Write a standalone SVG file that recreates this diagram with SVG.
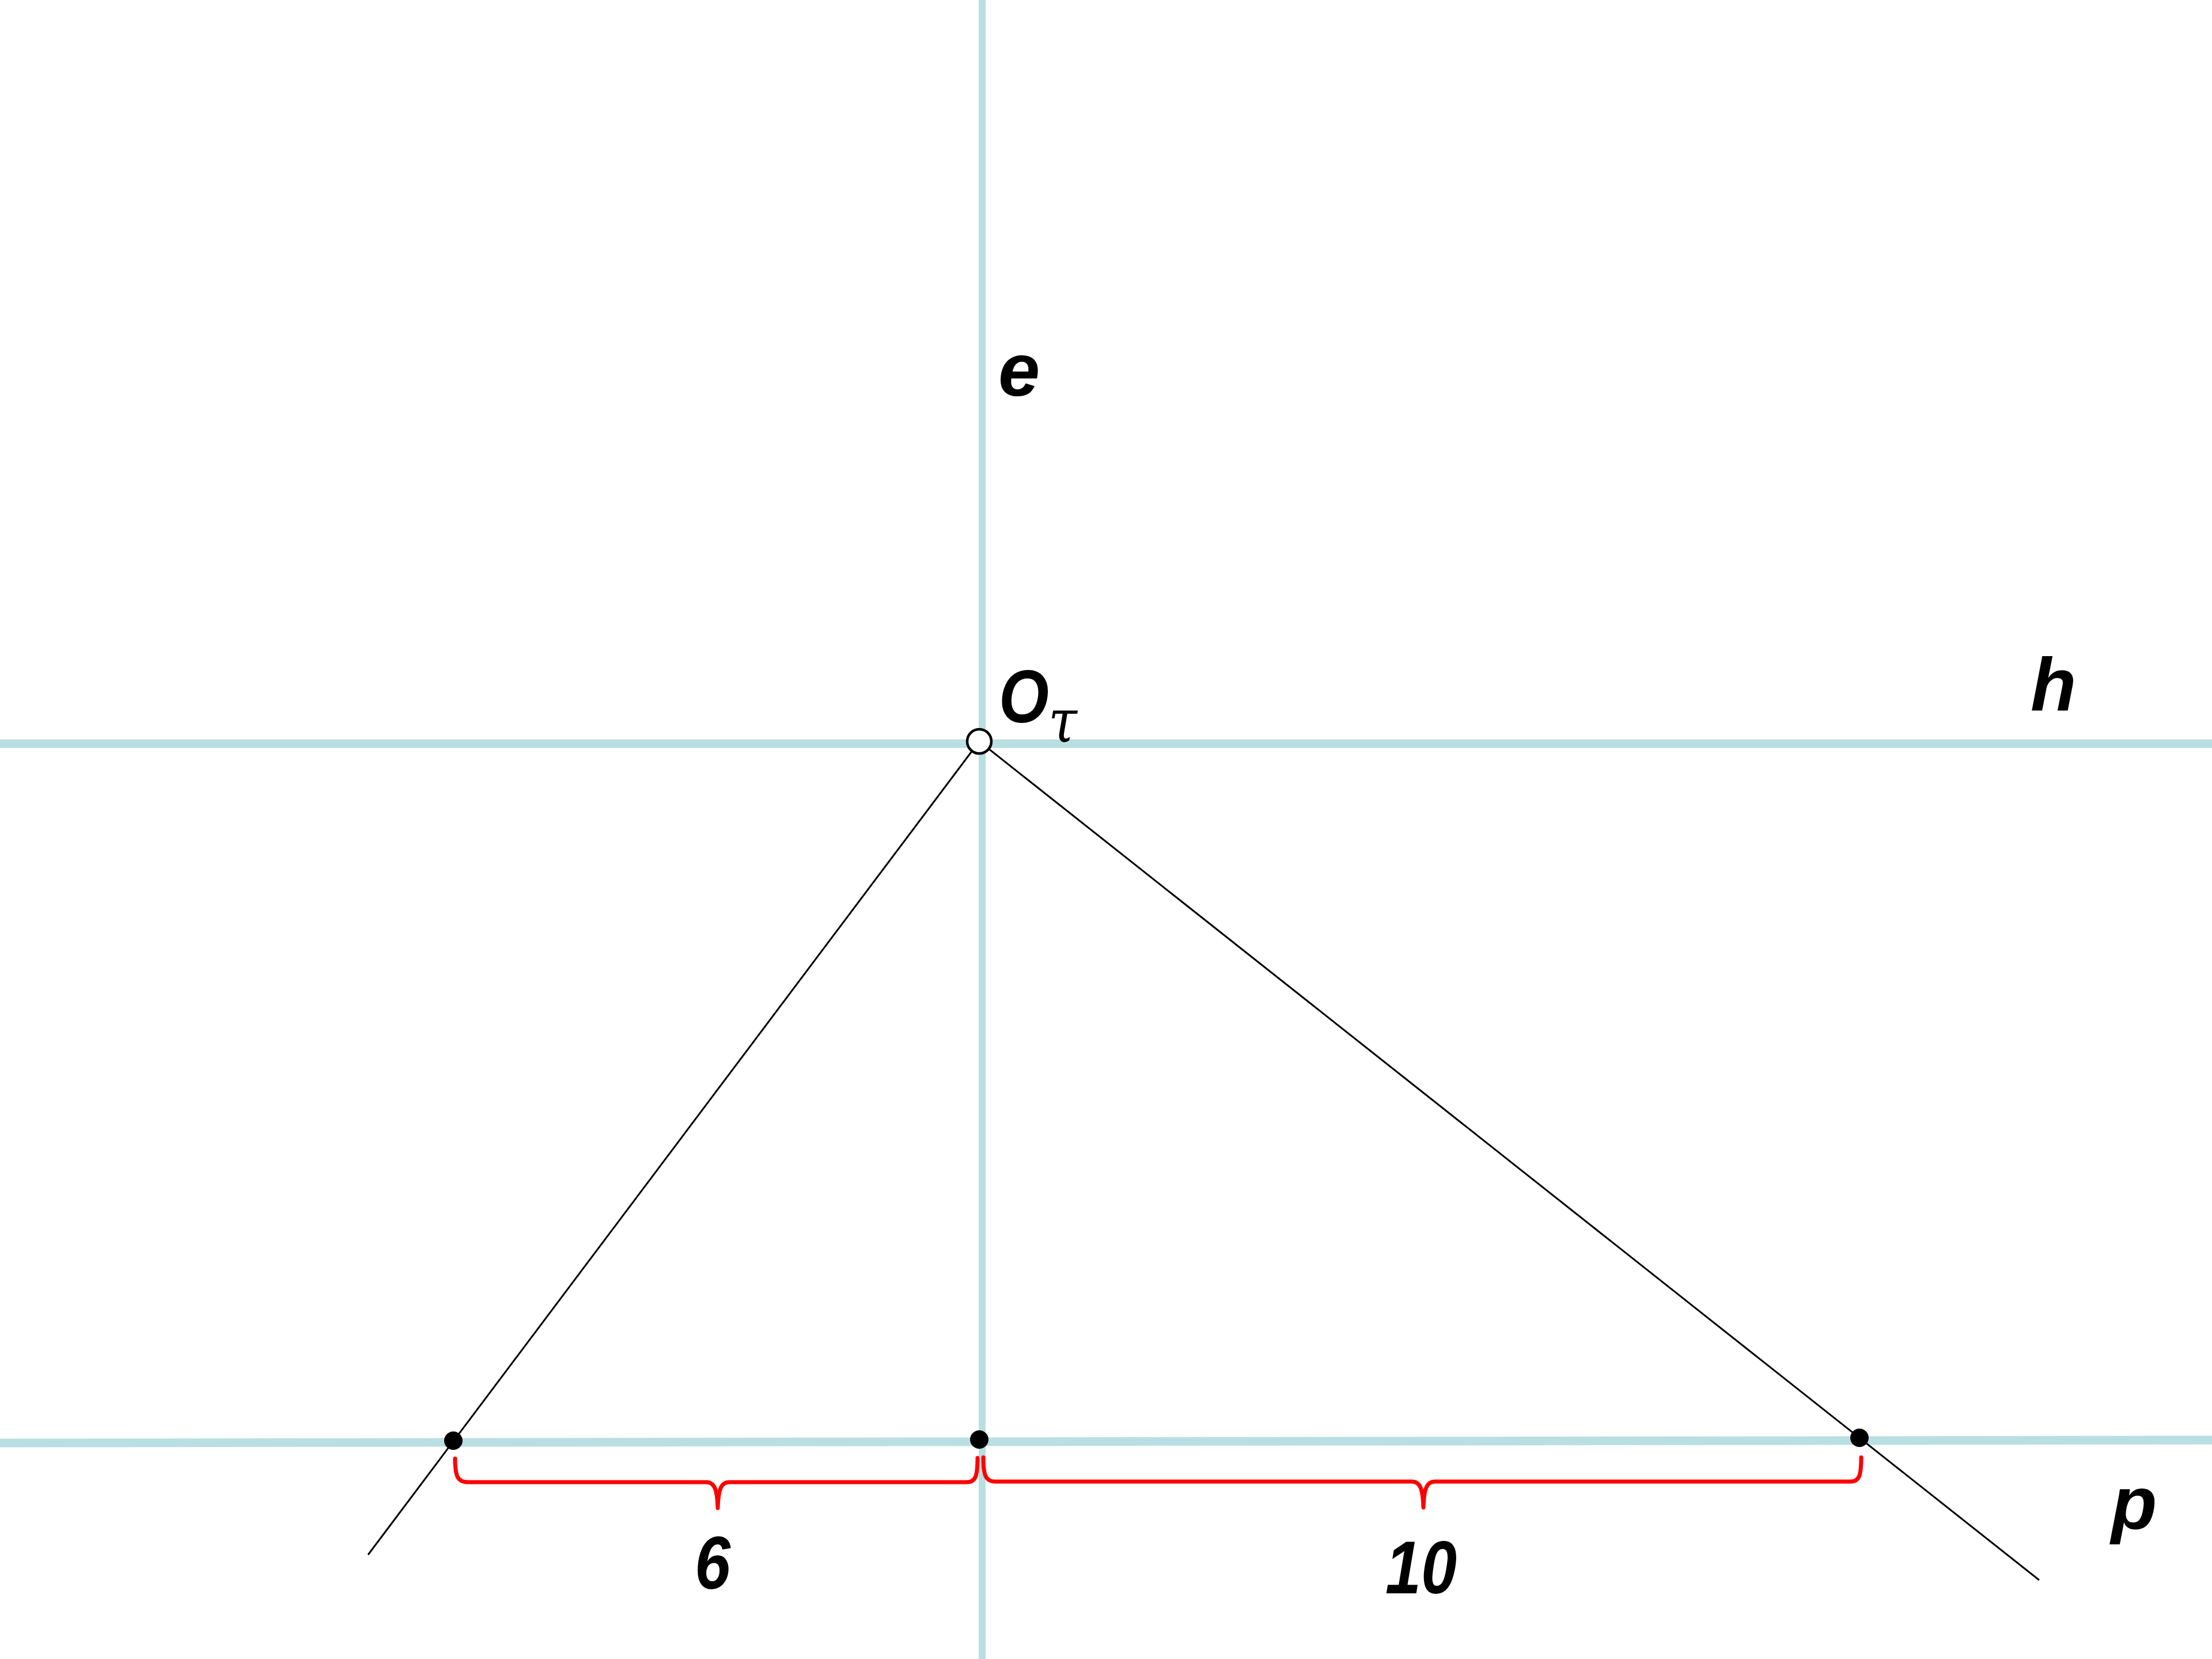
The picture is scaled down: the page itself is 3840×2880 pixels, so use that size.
<svg xmlns="http://www.w3.org/2000/svg" width="3840" height="2880" viewBox="0 0 3840 2880">
<style>
.axis{stroke:#b9dfe2;fill:none}
.ray{stroke:#000;stroke-width:3;fill:none}
.brace{stroke:#ff0000;stroke-width:7;fill:none;stroke-linecap:round;stroke-linejoin:round}
.lbl{font-family:"Liberation Sans",Arial,sans-serif;font-weight:bold;font-style:italic;font-size:130px;fill:#000}
.sub{font-family:"DejaVu Serif","Liberation Serif",serif;font-weight:normal;font-style:italic;font-size:105px}
.dot{fill:#000}
</style>
<rect width="3840" height="2880" fill="#fff"/>
<g id="connectors">
<line id="e-line" class="axis" x1="1705" y1="0" x2="1705" y2="2880" stroke-width="12"/>
<line id="h-line" class="axis" x1="0" y1="1291" x2="3840" y2="1291" stroke-width="15"/>
<line id="p-line" class="axis" x1="0" y1="2505" x2="3840" y2="2500" stroke-width="15"/>
<line id="ray-left" class="ray" x1="1700" y1="1287" x2="639" y2="2699"/>
<line id="ray-right" class="ray" x1="1700" y1="1287" x2="3540" y2="2743"/>
<path id="brace-6" class="brace" d="M790,2532 C790,2562 794,2573 812,2573 L1226,2573 C1240,2573 1245,2585 1246,2618 C1247,2585 1252,2573 1266,2573 L1678,2573 C1694,2573 1697,2562 1697,2531"/>
<path id="brace-10" class="brace" d="M1707,2530 C1707,2561 1711,2572 1728,2572 L2451,2572 C2465,2572 2470,2584 2471,2617 C2472,2584 2477,2572 2491,2572 L3212,2572 C3228,2572 3231,2561 3231,2530"/>
</g>
<g id="node-O">
<circle cx="1700" cy="1287" r="21" fill="#fff" stroke="#000" stroke-width="4.5"/>
<text class="lbl" transform="translate(1734,1254) scale(0.86,1)" x="0" y="0">O<tspan class="sub" x="100" y="34">τ</tspan></text>
</g>
<g id="node-left">
<circle class="dot" cx="787" cy="2501" r="16"/>
</g>
<g id="node-mid">
<circle class="dot" cx="1700" cy="2499" r="16"/>
</g>
<g id="node-right">
<circle class="dot" cx="3228" cy="2496" r="16"/>
</g>
<g id="labels">
<text class="lbl" x="1733" y="687">e</text>
<text class="lbl" x="3525" y="1233">h</text>
<text class="lbl" x="3665" y="2654">p</text>
<text class="lbl" x="1206" y="2758" textLength="62" lengthAdjust="spacingAndGlyphs">6</text>
<text class="lbl" x="2405" y="2766" textLength="124" lengthAdjust="spacingAndGlyphs">10</text>
</g>
</svg>
